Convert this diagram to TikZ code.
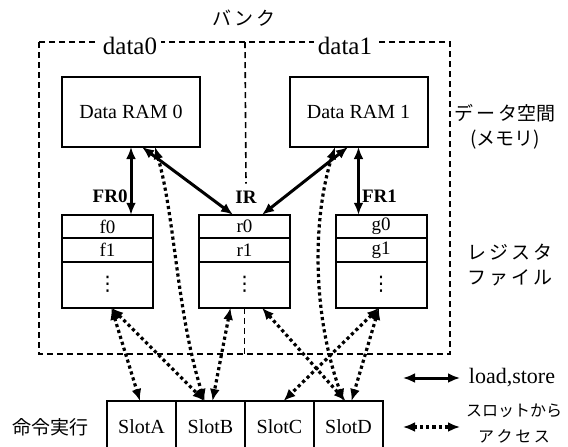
\documentclass[tikz,border=0pt]{standalone}
\usepackage{fontspec}
\setmainfont{Liberation Serif}
\newfontfamily\jpfont{Noto Sans CJK JP}
\newfontfamily\symfont{DejaVu Sans}
\usetikzlibrary{arrows.meta, positioning, calc}

% vertical ellipsis for the rest of a register file
\newcommand{\regdots}{{\symfont\fontsize{10}{12}\selectfont ⋮}}

\begin{document}
\begin{tikzpicture}[
    x=0.5pt, y=-0.5pt,
    font=\fontsize{10}{12}\selectfont,
    >={Latex[length=6pt,width=5pt]},
    ram/.style={
        draw,
        line width=1pt,
        minimum width=69pt,
        minimum height=35pt,
        inner sep=0pt,
        outer sep=0pt
    },
    regrow/.style={
        draw,
        fill=white,
        line width=1pt,
        minimum width=45.5pt,
        minimum height=11.75pt,
        inner sep=0pt,
        outer sep=0pt,
        font=\fontsize{9.5}{11}\selectfont
    },
    regrest/.style={regrow, minimum height=23pt},
    slot/.style={
        draw,
        line width=0.8pt,
        minimum width=34.5pt,
        minimum height=26pt,
        inner sep=0pt,
        outer sep=0pt
    },
    bank/.style={dash pattern=on 3pt off 2pt, line width=0.8pt},
    ls/.style={<->, line width=1.5pt},
    acc/.style={<->, line width=1.6pt, dash pattern=on 1.6pt off 1.5pt},
    jp/.style={font=\jpfont\fontsize{9.5}{12.5}\selectfont, align=center},
    regname/.style={font=\bfseries\fontsize{9.5}{11}\selectfont}
]
\useasboundingbox (0,0) rectangle (568,446);

% Banks
\node[jp] (banklbl) at (244,18) {バ\,ン\,ク};
\draw[bank] (39,42) rectangle (450,354);
\node[fill=white, inner sep=2pt, font=\fontsize{12.5}{14}\selectfont] (d0) at (130,46) {data0};
\node[fill=white, inner sep=2pt, font=\fontsize{12.5}{14}\selectfont] (d1) at (345,46) {data1};

% Data RAMs
\node[ram] (ram0) at (131,112) {Data RAM 0};
\node[ram] (ram1) at (358.5,112) {Data RAM 1};

% Register files
\node[regrow] (f0) at (107.5,226.5) {f0};
\node[regrow, below=0pt of f0] (f1) {f1};
\node[regrest, below=0pt of f1] (fd) {\regdots};

\node[regrow] (r0) at (244.5,226.5) {r0};
\node[regrow, below=0pt of r0] (r1) {r1};
\node[regrest, below=0pt of r1] (rd) {\regdots};

\node[regrow] (g0) at (381,226.5) {g0};
\node[regrow, below=0pt of g0] (g1) {g1};
\node[regrest, below=0pt of g1] (gd) {\regdots};

\node[regname] (irlbl) at (246,197) {IR};

% split between the two banks
\draw[bank] (245,42) -- (irlbl.north);
\draw[bank] (rd.south) -- (rd.south |- 0,354);

% Slots
\node[slot] (slotA) at (141.5,427) {SlotA};
\node[slot, right=0pt of slotA] (slotB) {SlotB};
\node[slot, right=0pt of slotB] (slotC) {SlotC};
\node[slot, right=0pt of slotC] (slotD) {SlotD};

% Side labels
\node[jp] (mem) at (505,127) {デ\,ー\,タ空間\\(メモリ)};
\node[jp] (regf) at (510,265) {レ\,ジ\,ス\,タ\\フ\,ァ\,イ\,ル};
\node[jp] (exe) at (50,427) {命令実行};

% load / store
\draw[ls] (ram0.south) -- (ram0.south |- f0.north)
    node[pos=0.72, left, inner sep=1pt, regname] {FR0};
\draw[ls] ([xshift=5.5pt]ram0.south) -- ([xshift=-5.75pt]r0.north);
\draw[ls] ([xshift=-5.25pt]ram1.south) -- ([xshift=8.75pt]r0.north);
\draw[ls] (ram1.south) -- (ram1.south |- g0.north)
    node[pos=0.72, right, inner sep=1pt, regname] {FR1};

% Slot access
\draw[acc] ([xshift=12pt]ram0.south) .. controls +(20,70) and +(-28,-90) .. ([xshift=-3pt]slotB.north);
\draw[acc] ([xshift=-11.75pt]ram1.south) .. controls +(-22,70) and +(-32,-90) .. ([xshift=-2.5pt]slotD.north);
\draw[acc] ([xshift=2pt]fd.south) -- ([xshift=-0.75pt]slotA.north);
\draw[acc] ([xshift=2pt]fd.south) -- ([xshift=-3pt]slotB.north);
\draw[acc] ([xshift=-7pt]rd.south) -- ([xshift=1pt]slotB.north);
\draw[acc] ([xshift=8.75pt]rd.south) -- ([xshift=-1.5pt]slotD.north);
\draw[acc] ([xshift=-1pt]gd.south) -- ([xshift=2pt]slotC.north);
\draw[acc] ([xshift=-1pt]gd.south) -- ([xshift=1.5pt]slotD.north);

% Legend
\coordinate (lsa) at (403,378);
\coordinate (lsb) at (460,378);
\draw[ls] (lsa) -- (lsb);
\node[font=\fontsize{11}{13}\selectfont] (lslbl) at (512,378) {load,store};
\coordinate (aca) at (403,427);
\coordinate (acb) at (460,427);
\draw[acc] (aca) -- (acb);
\node[jp, font=\jpfont\fontsize{8}{13}\selectfont] (aclbl) at (514,424) {スロットから\\ア\,ク\,セ\,ス};

\end{tikzpicture}
\end{document}
